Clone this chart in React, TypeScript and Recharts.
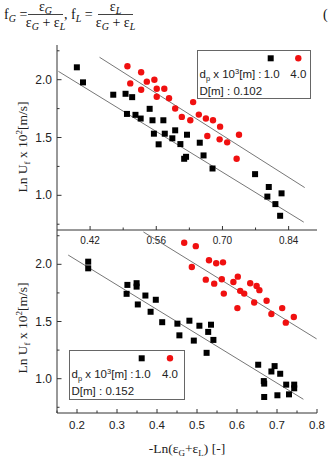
import { ScatterChart, Scatter, XAxis, YAxis } from 'recharts';

// top panel, D = 0.102 m
const topBlackX = [0.392, 0.405, 0.469, 0.495, 0.509, 0.498, 0.516, 0.527, 0.546, 0.552, 0.555, 0.565, 0.575, 0.578, 0.6, 0.594, 0.625, 0.611, 0.619, 0.623, 0.652, 0.66, 0.679, 0.769, 0.798, 0.795, 0.825, 0.812, 0.822];
const topBlackY = [2.107, 1.977, 1.87, 1.878, 1.849, 1.704, 1.696, 1.664, 1.748, 1.649, 1.533, 1.441, 1.649, 1.533, 1.562, 1.493, 1.524, 1.443, 1.316, 1.333, 1.455, 1.345, 1.232, 1.183, 1.072, 0.989, 1.017, 0.924, 0.823];
const topRedX = [0.499, 0.505, 0.528, 0.54, 0.528, 0.556, 0.561, 0.561, 0.577, 0.587, 0.6, 0.614, 0.632, 0.638, 0.65, 0.665, 0.68, 0.695, 0.668, 0.694, 0.71, 0.735, 0.73];
const topRedY = [2.116, 1.968, 2.064, 1.983, 1.913, 2.0, 1.922, 1.852, 1.922, 1.84, 1.751, 1.678, 1.649, 1.806, 1.698, 1.664, 1.649, 1.594, 1.513, 1.484, 1.458, 1.524, 1.316];
const topFitBlackX = [0.353, 0.872];
const topFitBlackY = [2.072, 0.768];
const topFitRedX = [0.44, 0.874];
const topFitRedY = [2.194, 1.067];

// bottom panel, D = 0.152 m
const botBlackX = [0.228, 0.228, 0.326, 0.324, 0.349, 0.349, 0.352, 0.371, 0.384, 0.397, 0.413, 0.451, 0.456, 0.481, 0.492, 0.506, 0.528, 0.535, 0.541, 0.524, 0.653, 0.667, 0.668, 0.668, 0.686, 0.694, 0.701, 0.708, 0.723, 0.73, 0.743, 0.743];
const botBlackY = [2.023, 1.965, 1.82, 1.742, 1.835, 1.805, 1.649, 1.727, 1.585, 1.69, 1.494, 1.481, 1.379, 1.507, 1.333, 1.463, 1.409, 1.472, 1.339, 1.226, 1.122, 0.979, 0.957, 0.84, 1.063, 1.11, 0.855, 1.043, 0.948, 0.863, 0.948, 0.916];
const botRedX = [0.468, 0.497, 0.53, 0.548, 0.565, 0.487, 0.522, 0.543, 0.562, 0.567, 0.591, 0.602, 0.608, 0.618, 0.633, 0.649, 0.656, 0.643, 0.601, 0.674, 0.686, 0.713, 0.722, 0.742];
const botRedY = [2.188, 2.159, 2.035, 2.009, 2.017, 1.977, 1.866, 1.831, 1.87, 1.744, 1.846, 1.892, 1.768, 1.744, 1.835, 1.811, 1.774, 1.666, 1.617, 1.681, 1.565, 1.617, 1.49, 1.539];
const botFitBlackX = [0.178, 0.766];
const botFitBlackY = [2.081, 0.82];
const botFitRedX = [0.366, 0.799];
const botFitRedY = [2.283, 1.348];

const topXTicks = [0.42, 0.49, 0.56, 0.63, 0.7, 0.77, 0.84];
const topXLabels = ['0.42', '', '0.56', '', '0.70', '', '0.84'];
const botXTicks = [0.15, 0.2, 0.25, 0.3, 0.35, 0.4, 0.45, 0.5, 0.55, 0.6, 0.65, 0.7, 0.75, 0.8];
const botXLabels = ['', '0.2', '', '0.3', '', '0.4', '', '0.5', '', '0.6', '', '0.7', '', '0.8'];
const yTicks = [0.75, 1.0, 1.25, 1.5, 1.75, 2.0, 2.25];
const yLabels = ['', '1.0', '', '1.5', '', '2.0', ''];

const AXIS = '#333';
const SANS = '"Liberation Sans", Arial, sans-serif';
const SERIF = '"Liberation Serif", "Times New Roman", serif';

function pts(xs: number[], ys: number[]) {
  return xs.map((x, i) => ({ x, y: ys[i] }));
}

function Square(props: any) {
  const { cx, cy } = props;
  if (cx == null || cy == null) return <g />;
  return <rect x={cx - 3} y={cy - 3} width={6} height={6} fill="#000" />;
}

function Dot(props: any) {
  const { cx, cy } = props;
  if (cx == null || cy == null) return <g />;
  return <circle cx={cx} cy={cy} r={3.2} fill="#f01010" />;
}

const Nothing = () => <g />;

function makeXTick(labels: string[], fontSize: number, dy: number) {
  return (props: any) => {
    const { x, y, index } = props;
    const label = labels[index];
    const len = label ? 4 : 2.5;
    return (
      <g>
        <line x1={x} x2={x} y1={y} y2={y - len} stroke={AXIS} />
        {label && (
          <text x={x} y={y + dy} textAnchor="middle" fontSize={fontSize} fontFamily={SANS} fill="#222">
            {label}
          </text>
        )}
      </g>
    );
  };
}

function YTick(props: any) {
  const { x, y, index } = props;
  const label = yLabels[index];
  const len = label ? 4.5 : 2.5;
  return (
    <g>
      <line x1={x} x2={x + len} y1={y} y2={y} stroke={AXIS} />
      {label && (
        <text x={x - 5} y={y + 4} textAnchor="end" fontSize={12} fontFamily={SANS} fill="#222">
          {label}
        </text>
      )}
    </g>
  );
}

const TopXTick = makeXTick(topXLabels, 10, 13.5);
const BotXTick = makeXTick(botXLabels, 11.5, 16);

function Panel({ top, height, margin, xDomain, xTicks, XTick, xHeight, black, red, fitBlack, fitRed, topBorder }: any) {
  return (
    <div style={{ position: 'absolute', left: 0, top }}>
      <ScatterChart width={332} height={height} margin={margin}>
        <XAxis
          type="number"
          dataKey="x"
          domain={xDomain}
          allowDataOverflow
          ticks={xTicks}
          interval={0}
          tickSize={0}
          tickMargin={0}
          tickLine={false}
          tick={XTick}
          height={xHeight}
          axisLine={{ stroke: AXIS }}
        />
        {topBorder && (
          <XAxis xAxisId="t" orientation="top" type="number" domain={[0, 1]} height={0} tick={false} tickLine={false} axisLine={{ stroke: AXIS }} />
        )}
        <YAxis
          type="number"
          dataKey="y"
          domain={[0.7, 2.3]}
          allowDataOverflow
          ticks={yTicks}
          interval={0}
          tickSize={0}
          tickMargin={0}
          tickLine={false}
          tick={YTick}
          width={57}
          axisLine={{ stroke: AXIS }}
        />
        <YAxis yAxisId="r" orientation="right" type="number" domain={[0, 1]} width={0} tick={false} tickLine={false} axisLine={{ stroke: AXIS }} />
        <Scatter data={fitBlack} line={{ stroke: '#777', strokeWidth: 1 }} shape={Nothing} isAnimationActive={false} />
        <Scatter data={fitRed} line={{ stroke: '#777', strokeWidth: 1 }} shape={Nothing} isAnimationActive={false} />
        <Scatter data={black} shape={Square} isAnimationActive={false} />
        <Scatter data={red} shape={Dot} isAnimationActive={false} />
      </ScatterChart>
    </div>
  );
}

function LegendBox({ x, y, w, h, sqX, dotX, d }: any) {
  return (
    <svg width={332} height={458} style={{ position: 'absolute', left: 0, top: 0, pointerEvents: 'none' }}>
      <rect x={x + 0.5} y={y + 0.5} width={w} height={h} fill="none" stroke="#666" />
      <rect x={sqX - 3} y={y + 5.3} width={6} height={6} fill="#000" />
      <circle cx={dotX} cy={y + 8.3} r={3.2} fill="#f01010" />
      <g fontFamily={SANS} fontSize={11.5} fill="#222">
        <text x={x + 2.5} y={y + 28}>
          d<tspan fontSize={7.5} dy={2.5}>p</tspan>
          <tspan dy={-2.5}> x 10</tspan>
          <tspan fontSize={7.5} dy={-4.5}>3</tspan>
          <tspan dy={4.5}>[m] : </tspan>
        </text>
        <text x={sqX + 1} y={y + 28} textAnchor="middle">1.0</text>
        <text x={dotX} y={y + 28} textAnchor="middle">4.0</text>
        <text x={x + 2.5} y={y + 44.5}>D[m] :  {d}</text>
      </g>
    </svg>
  );
}

export default function App() {
  return (
    <div style={{ position: 'absolute', left: 0, top: 0, width: 332, height: 458, background: '#fff', overflow: 'hidden' }}>
      <svg width={332} height={40} style={{ position: 'absolute', left: 0, top: 0 }}>
        <g fontFamily={SERIF} fontSize={14} fill="#111">
          <text x={4} y={19}>
            f<tspan fontSize={10} fontStyle="italic" dy={3}>G</tspan>
            <tspan dy={-3}> =</tspan>
          </text>
          <text x={45.5} y={11} textAnchor="middle">
            ε<tspan fontSize={10} fontStyle="italic" dy={3}>G</tspan>
          </text>
          <line x1={28} x2={63} y1={14.5} y2={14.5} stroke="#111" strokeWidth={0.8} />
          <text x={45.5} y={26.5} textAnchor="middle">
            ε<tspan fontSize={10} fontStyle="italic" dy={3}>G</tspan>
            <tspan dy={-3}> + ε</tspan>
            <tspan fontSize={10} fontStyle="italic" dy={3}>L</tspan>
          </text>
          <text x={64} y={19}>,</text>
          <text x={71} y={19}>
            f<tspan fontSize={10} fontStyle="italic" dy={3}>L</tspan>
            <tspan dy={-3}> =</tspan>
          </text>
          <text x={115.5} y={11} textAnchor="middle">
            ε<tspan fontSize={10} fontStyle="italic" dy={3}>L</tspan>
          </text>
          <line x1={98} x2={133} y1={14.5} y2={14.5} stroke="#111" strokeWidth={0.8} />
          <text x={115.5} y={26.5} textAnchor="middle">
            ε<tspan fontSize={10} fontStyle="italic" dy={3}>G</tspan>
            <tspan dy={-3}> + ε</tspan>
            <tspan fontSize={10} fontStyle="italic" dy={3}>L</tspan>
          </text>
          <text x={323} y={19}>(</text>
        </g>
      </svg>

      <Panel
        top={0}
        height={250}
        margin={{ top: 45, right: 15, bottom: 0, left: 0 }}
        xDomain={[0.35, 0.9]}
        xTicks={topXTicks}
        XTick={TopXTick}
        xHeight={20}
        black={pts(topBlackX, topBlackY)}
        red={pts(topRedX, topRedY)}
        fitBlack={pts(topFitBlackX, topFitBlackY)}
        fitRed={pts(topFitRedX, topFitRedY)}
        topBorder
      />
      <Panel
        top={225}
        height={233}
        margin={{ top: 5, right: 15, bottom: 0, left: 0 }}
        xDomain={[0.15, 0.8]}
        xTicks={botXTicks}
        XTick={BotXTick}
        xHeight={45}
        black={pts(botBlackX, botBlackY)}
        red={pts(botRedX, botRedY)}
        fitBlack={pts(botFitBlackX, botFitBlackY)}
        fitRed={pts(botFitRedX, botFitRedY)}
        topBorder={false}
      />

      <LegendBox x={197} y={50} w={113} h={48} sqX={270.7} dotX={298.3} d="0.102" />
      <LegendBox x={69} y={350} w={115} h={49} sqX={141.7} dotX={170} d="0.152" />

      <svg width={332} height={458} style={{ position: 'absolute', left: 0, top: 0, pointerEvents: 'none' }}>
        <g fontFamily={SERIF} fontSize={13.5} fill="#222">
          {[147, 328].map((cy) => (
            <text key={cy} x={0} y={0} textAnchor="middle" transform={`translate(27 ${cy}) rotate(-90)`}>
              Ln U<tspan fontSize={9} dy={3}>f</tspan>
              <tspan dy={-3}> x 10</tspan>
              <tspan fontSize={9} dy={-5}>2</tspan>
              <tspan dy={5}>[m/s]</tspan>
            </text>
          ))}
          <text x={187} y={453} textAnchor="middle">
            -Ln(ε<tspan fontSize={9} dy={3}>G</tspan>
            <tspan dy={-3}>+ε</tspan>
            <tspan fontSize={9} dy={3}>L</tspan>
            <tspan dy={-3}>) [-]</tspan>
          </text>
        </g>
      </svg>
    </div>
  );
}
